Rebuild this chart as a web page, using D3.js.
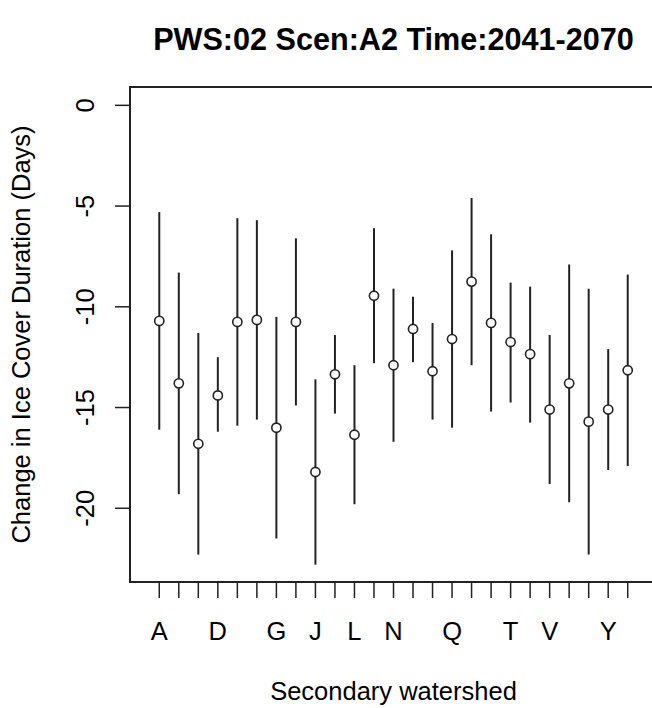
<!DOCTYPE html>
<html>
<head>
<meta charset="utf-8">
<script src="https://cdn.jsdelivr.net/npm/d3@7"></script>
<style>
  body { margin: 0; background: #fff; }
  text { font-family: "Liberation Sans", Arial, sans-serif; fill: #000; }
</style>
</head>
<body>
<div id="chart"></div>
<script>
var width = 652
var height = 708
var baseFont = 25.5

// secondary watersheds (no I) (days)
var watersheds = ['A','B','C','D','E','F','G','H','J','K','L','M','N',
                  'O','P','Q','R','S','T','U','V','W','X','Y','Z']
// R drops labels that would overlap, only these end up drawn
var shownLabels = ['A','D','G','J','L','N','Q','T','V','Y']
var means = [-10.7, -13.8, -16.8, -14.4, -10.75, -10.65, -16.0, -10.75, -18.2, -13.35,
             -16.35, -9.45, -12.9, -11.1, -13.2, -11.6, -8.75, -10.8, -11.75, -12.35,
             -15.1, -13.8, -15.7, -15.1, -13.15]
var upper = [-5.3, -8.3, -11.3, -12.5, -5.6, -5.7, -10.5, -6.6, -13.6, -11.4,
             -12.9, -6.1, -9.1, -9.5, -10.8, -7.2, -4.6, -6.4, -8.8, -9.0,
             -11.4, -7.9, -9.1, -12.1, -8.4]
var lower = [-16.1, -19.3, -22.3, -16.2, -15.9, -15.6, -21.5, -14.9, -22.8, -15.3,
             -19.8, -12.8, -16.7, -12.75, -15.6, -16.0, -12.9, -15.2, -14.75, -15.75,
             -18.8, -19.7, -22.3, -18.1, -17.9]
var yTicks = [0, -5, -10, -15, -20]

var box = { left: 130, top: 87, right: 657, bottom: 582 }

var svg = d3.select('#chart').append('svg')
    .attr('width', width)
    .attr('height', height)

// R style extended ranges
var x = d3.scaleLinear().domain([-0.5, 26.5]).range([box.left, box.right])
var y = d3.scaleLinear().domain([-23.66, 0.91]).range([box.bottom, box.top])

var data = watersheds.map(function (d, i) {
    return { name: d, i: i + 1, mean: means[i], hi: upper[i], lo: lower[i] }
})

// title
svg.append('text')
    .attr('x', (box.left + box.right) / 2)
    .attr('y', 50)
    .attr('text-anchor', 'middle')
    .style('font-size', (baseFont * 1.2) + 'px')
    .style('font-weight', 'bold')
    .text('PWS:02 Scen:A2 Time:2041-2070')

// plot frame
svg.append('rect')
    .attr('x', box.left)
    .attr('y', box.top)
    .attr('width', box.right - box.left)
    .attr('height', box.bottom - box.top)
    .attr('fill', 'none')
    .attr('stroke', '#222')
    .attr('stroke-width', 2)

// y axis
var yAxis = svg.append('g')
yAxis.append('line')
    .attr('x1', box.left).attr('x2', box.left)
    .attr('y1', y(0)).attr('y2', y(-20))
    .attr('stroke', '#222').attr('stroke-width', 1.5)
yAxis.selectAll('.ytick').data(yTicks).enter().append('line')
    .attr('x1', box.left - 15).attr('x2', box.left)
    .attr('y1', function (d) { return y(d) })
    .attr('y2', function (d) { return y(d) })
    .attr('stroke', '#222').attr('stroke-width', 1.5)
yAxis.selectAll('.ylab').data(yTicks).enter().append('text')
    .attr('transform', function (d) { return 'translate(93.5,' + y(d) + ') rotate(-90)' })
    .attr('text-anchor', 'middle')
    .style('font-size', baseFont + 'px')
    .text(function (d) { return d })

svg.append('text')
    .attr('transform', 'translate(30,' + (box.top + box.bottom) / 2 + ') rotate(-90)')
    .attr('text-anchor', 'middle')
    .style('font-size', baseFont + 'px')
    .text('Change in Ice Cover Duration (Days)')

// x axis
var xAxis = svg.append('g')
xAxis.selectAll('.xtick').data(data).enter().append('line')
    .attr('x1', function (d) { return x(d.i) })
    .attr('x2', function (d) { return x(d.i) })
    .attr('y1', box.bottom).attr('y2', box.bottom + 16)
    .attr('stroke', '#222').attr('stroke-width', 1.5)
xAxis.selectAll('.xlab')
    .data(data.filter(function (d) { return shownLabels.indexOf(d.name) >= 0 }))
    .enter().append('text')
    .attr('x', function (d) { return x(d.i) })
    .attr('y', 640)
    .attr('text-anchor', 'middle')
    .style('font-size', baseFont + 'px')
    .text(function (d) { return d.name })

svg.append('text')
    .attr('x', (box.left + box.right) / 2)
    .attr('y', 700)
    .attr('text-anchor', 'middle')
    .style('font-size', baseFont + 'px')
    .text('Secondary watershed')

// ranges and means
var marks = svg.append('g')
marks.selectAll('.range').data(data).enter().append('line')
    .attr('x1', function (d) { return x(d.i) })
    .attr('x2', function (d) { return x(d.i) })
    .attr('y1', function (d) { return y(d.hi) })
    .attr('y2', function (d) { return y(d.lo) })
    .attr('stroke', '#222').attr('stroke-width', 2)
marks.selectAll('.mean').data(data).enter().append('circle')
    .attr('cx', function (d) { return x(d.i) })
    .attr('cy', function (d) { return y(d.mean) })
    .attr('r', 4.6)
    .attr('fill', '#fff')
    .attr('stroke', '#222').attr('stroke-width', 1.6)
</script>
</body>
</html>
